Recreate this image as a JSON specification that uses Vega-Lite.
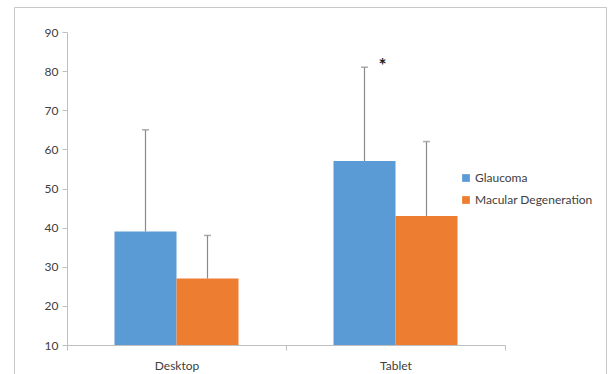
{
  "$schema": "https://vega.github.io/schema/vega-lite/v6.json",
  "width": 592,
  "height": 367,
  "autosize": {"type": "none"},
  "padding": {"left": 14, "top": 7, "right": 3, "bottom": 0},
  "background": "white",
  "config": {
    "view": {"stroke": "#c8c8c8", "strokeWidth": 1},
    "font": "Lato"
  },
  "data": {
    "values": [
      {"device": "Desktop", "group": "Glaucoma", "value": 39, "upper": 65, "mark": ""},
      {"device": "Desktop", "group": "Macular Degeneration", "value": 27, "upper": 38, "mark": ""},
      {"device": "Tablet", "group": "Glaucoma", "value": 57, "upper": 81, "mark": "*"},
      {"device": "Tablet", "group": "Macular Degeneration", "value": 43, "upper": 62, "mark": ""}
    ]
  },
  "encoding": {
    "x": {
      "field": "device",
      "type": "nominal",
      "sort": ["Desktop", "Tablet"],
      "scale": {"range": [53, 491], "paddingInner": 0, "paddingOuter": 0},
      "axis": {
        "title": null,
        "offset": -29,
        "tickBand": "extent",
        "domainColor": "#bfbfbf",
        "tickColor": "#bfbfbf",
        "tickSize": 5,
        "labelAngle": 0,
        "labelFontSize": 12,
        "labelColor": "#404040",
        "labelPadding": 10
      }
    },
    "xOffset": {
      "field": "group",
      "type": "nominal",
      "sort": ["Glaucoma", "Macular Degeneration"],
      "scale": {"paddingInner": 0, "paddingOuter": 0.766}
    }
  },
  "layer": [
    {
      "mark": {"type": "bar", "stroke": null},
      "encoding": {
        "y": {
          "field": "value",
          "type": "quantitative",
          "scale": {"domain": [10, 90], "range": [338, 25], "nice": false, "zero": false},
          "axis": {
            "title": null,
            "offset": -53,
            "values": [10, 20, 30, 40, 50, 60, 70, 80, 90],
            "grid": false,
            "domainColor": "#bfbfbf",
            "tickColor": "#bfbfbf",
            "tickSize": 5,
            "labelFontSize": 12,
            "labelColor": "#404040",
            "labelPadding": 4
          }
        },
        "y2": {"datum": 10},
        "color": {
          "field": "group",
          "type": "nominal",
          "sort": ["Glaucoma", "Macular Degeneration"],
          "scale": {"range": ["#5b9bd5", "#ed7d31"]},
          "legend": {
            "title": null,
            "orient": "none",
            "legendX": 446,
            "legendY": 165,
            "symbolType": "square",
            "symbolSize": 60,
            "symbolStrokeWidth": 0,
            "labelFontSize": 12,
            "labelColor": "#404040",
            "rowPadding": 10,
            "labelOffset": 3
          }
        }
      }
    },
    {
      "mark": {"type": "rule", "color": "#8a8a8a", "strokeWidth": 1.2},
      "encoding": {
        "y": {"field": "value", "type": "quantitative"},
        "y2": {"field": "upper"}
      }
    },
    {
      "mark": {"type": "tick", "color": "#8a8a8a", "thickness": 1.5, "size": 7, "orient": "horizontal"},
      "encoding": {
        "y": {"field": "upper", "type": "quantitative"}
      }
    },
    {
      "mark": {"type": "text", "fontSize": 19, "color": "#222222", "dx": 18, "baseline": "middle", "fontWeight": "bold"},
      "encoding": {
        "y": {"datum": 81.2, "type": "quantitative"},
        "text": {"field": "mark"}
      }
    }
  ]
}
